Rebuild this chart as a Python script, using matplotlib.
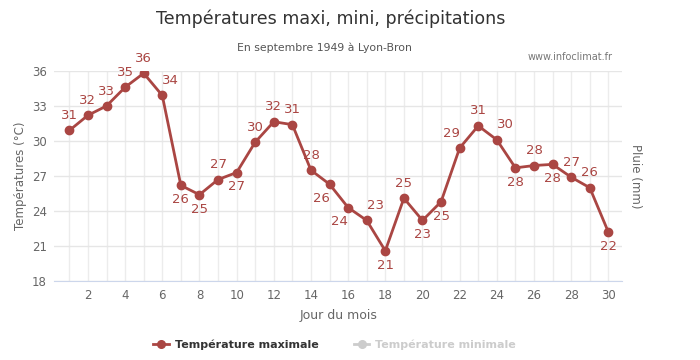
import matplotlib
matplotlib.use('Agg')
import matplotlib.pyplot as plt
from matplotlib.lines import Line2D

days = list(range(1, 31))
tmax = [30.9, 32.2, 33.0, 34.6, 35.8, 33.9, 26.2, 25.4, 26.7, 27.3,
        29.9, 31.65, 31.4, 27.5, 26.3, 24.3, 23.2, 20.6, 25.1, 23.2,
        24.8, 29.4, 31.3, 30.1, 27.7, 27.9, 28.0, 26.9, 26.0, 22.2]
yticks = [18, 21, 24, 27, 30, 33, 36]
xticks = [2, 4, 6, 8, 10, 12, 14, 16, 18, 20, 22, 24, 26, 28, 30]

# label placement (dx, dy in points) - above / below like the original
above = (0, 6)
below = (0, -15)
offsets = [above, above, above, above, above, (6, 6), below, below, above, below,
           above, above, above, above, (-6, -15), (-6, -15), (6, 6), below, above, below,
           below, (-6, 6), above, (6, 6), below, above, below, above, above, below]

red = '#AA4643'
grey = '#666666'

plt.rcParams['font.family'] = ['DejaVu Sans']

fig = plt.figure(figsize=(7, 3.6), dpi=100)
ax = fig.add_axes([0.077, 0.219, 0.812, 0.584])

ax.plot(days, tmax, color=red, lw=2, marker='o', ms=6, zorder=3)
for d, v, off in zip(days, tmax, offsets):
    ax.annotate(f'{round(v):d}', (d, v), xytext=off, textcoords='offset points',
                ha='center', va='bottom', fontsize=9.5, color=red)

ax.set_xlim(0.17, 30.75)
ax.set_ylim(18, 36)
ax.set_yticks(yticks)
ax.set_xticks(xticks)
ax.set_xticks(days, minor=True)
ax.grid(True, which='both', axis='x', color='#ececec', lw=1)
ax.grid(True, which='major', axis='y', color='#e6e6e6', lw=1)
ax.set_axisbelow(True)
for s in ['top', 'right', 'left']:
    ax.spines[s].set_visible(False)
ax.spines['bottom'].set_color('#ccd6eb')
ax.tick_params(axis='both', which='both', length=0, labelsize=8.5, colors=grey)
ax.tick_params(axis='x', pad=6)
ax.tick_params(axis='y', pad=5)

ax.set_xlabel('Jour du mois', fontsize=9, color=grey, labelpad=5)
ax.set_ylabel('Températures (°C)', fontsize=8.5, color=grey)
ax.yaxis.set_label_coords(-0.048, 0.5)
ax2 = ax.twinx()
ax2.set_yticks([])
for s in ax2.spines.values():
    s.set_visible(False)
ax2.set_ylabel('Pluie (mm)', fontsize=8.5, color=grey, rotation=270, labelpad=14)

fig.text(0.473, 0.948, 'Températures maxi, mini, précipitations', ha='center', va='center',
         fontsize=12.6, color='#333333')
fig.text(0.464, 0.868, 'En septembre 1949 à Lyon-Bron', ha='center', va='center',
         fontsize=7.8, color='#555555')
fig.text(0.875, 0.842, 'www.infoclimat.fr', ha='right', va='center',
         fontsize=7, color='#777777')

handles = [Line2D([], [], color=red, lw=2, marker='o', ms=5.5),
           Line2D([], [], color='#cccccc', lw=2, marker='o', ms=5.5)]
leg = fig.legend(handles, ['Température maximale', 'Température minimale'],
                 loc='center', bbox_to_anchor=(0.478, 0.042), ncol=2, frameon=False,
                 fontsize=8, handlelength=1.4, columnspacing=3.2, handletextpad=0.5)
leg.get_texts()[0].set_color('#333333')
leg.get_texts()[0].set_fontweight('bold')
leg.get_texts()[1].set_color('#cccccc')
leg.get_texts()[1].set_fontweight('bold')

fig.savefig('out.png', dpi=100)
